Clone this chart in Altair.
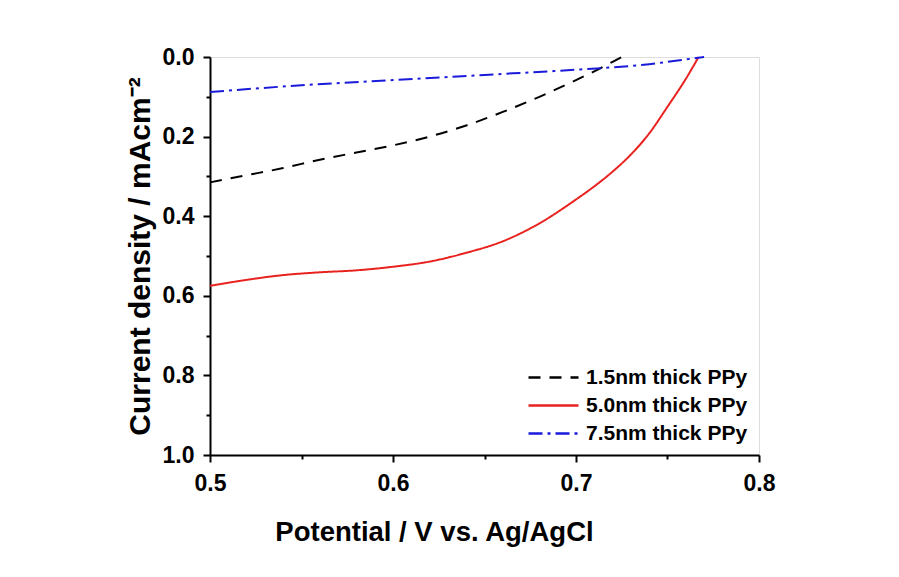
import altair as alt
import pandas as pd

series_names = ["1.5nm thick PPy", "5.0nm thick PPy", "7.5nm thick PPy"]
colors = ["#000000", "#e8231f", "#1a1adb"]

x_15 = [0.50, 0.52, 0.54, 0.56, 0.58, 0.60, 0.62, 0.64, 0.66, 0.68, 0.70, 0.71, 0.72, 0.725]
y_15 = [0.315, 0.297, 0.279, 0.258, 0.240, 0.222, 0.200, 0.172, 0.138, 0.100, 0.058, 0.036, 0.012, 0.0]

x_50 = [0.50, 0.52, 0.54, 0.56, 0.58, 0.60, 0.62, 0.64, 0.66, 0.68, 0.70, 0.71, 0.72, 0.73, 0.74, 0.75, 0.76, 0.767]
y_50 = [0.575, 0.560, 0.548, 0.541, 0.536, 0.527, 0.514, 0.492, 0.463, 0.418, 0.358, 0.325, 0.288, 0.245, 0.192, 0.125, 0.055, 0.0]

x_75 = [0.50, 0.55, 0.60, 0.65, 0.70, 0.72, 0.74, 0.76, 0.77]
y_75 = [0.088, 0.071, 0.058, 0.045, 0.032, 0.026, 0.018, 0.006, 0.0]

x_major = [0.5, 0.6, 0.7, 0.8]
x_minor = [0.55, 0.65, 0.75]
y_major = [0.0, 0.2, 0.4, 0.6, 0.8, 1.0]
y_minor = [0.1, 0.3, 0.5, 0.7, 0.9]

rows = []
for name, xs_, ys_ in zip(series_names, [x_15, x_50, x_75], [y_15, y_50, y_75]):
    for i, (a, b) in enumerate(zip(xs_, ys_)):
        rows.append({"series": name, "V": a, "J": b, "order": i})
df = pd.DataFrame(rows)

FONT = "Liberation Sans"
xs = alt.Scale(domain=[0.5, 0.8], nice=False, zero=False)
ys = alt.Scale(domain=[0.0, 1.0], reverse=True, nice=False, zero=False)

legend_kw = dict(
    title=None, orient="none", legendX=333, legendY=310,
    symbolType="M-5,0L5,0", symbolSize=100, symbolStrokeWidth=2.5,
    labelFontSize=21, labelFont=FONT, labelFontWeight="bold", labelLimit=400,
    labelColor="black", rowPadding=6, labelOffset=22,
)

lines = alt.Chart(df).mark_line(strokeWidth=2, interpolate="monotone").encode(
    x=alt.X("V:Q", scale=xs, axis=alt.Axis(
        values=x_major, format=".1f", title="Potential / V vs. Ag/AgCl",
        titleFontSize=27.5, titleFont=FONT, titleFontWeight="bold", titlePadding=23,
        titleX=224, titleAlign="center", titleAnchor="start",
        labelFontSize=23, labelFont=FONT, labelFontWeight="bold", labelPadding=10, labelFlush=False,
        tickSize=7, tickWidth=2, domainWidth=2, domainColor="black", tickColor="black",
        labelColor="black", titleColor="black", grid=False)),
    y=alt.Y("J:Q", scale=ys, axis=alt.Axis(
        values=y_major, format=".1f", title="Current density / mAcm\u207b\u00b2",
        titleFontSize=30, titleFont=FONT, titleFontWeight="bold", titlePadding=7,
        labelFontSize=23, labelFont=FONT, labelFontWeight="bold", labelPadding=9, labelFlush=False,
        tickSize=7, tickWidth=2, domainWidth=2, domainColor="black", tickColor="black",
        labelColor="black", titleColor="black", grid=False)),
    color=alt.Color("series:N", scale=alt.Scale(domain=series_names, range=colors),
                    legend=alt.Legend(**legend_kw)),
    strokeDash=alt.StrokeDash("series:N", scale=alt.Scale(domain=series_names,
                                                           range=[[12, 9], [1, 0], [14, 5, 3, 5]]),
                              legend=alt.Legend(**legend_kw)),
    order="order:Q",
)

minor_df = pd.DataFrame({"V": [0.5], "J": [0.0]})
minor = alt.Chart(minor_df).mark_point(opacity=0).encode(
    x=alt.X("V:Q", scale=xs, axis=alt.Axis(values=x_minor, labels=False, title=None, domain=False,
                                            tickSize=4, tickWidth=2, tickColor="black", grid=False, orient="bottom")),
    y=alt.Y("J:Q", scale=ys, axis=alt.Axis(values=y_minor, labels=False, title=None, domain=False,
                                            tickSize=4, tickWidth=2, tickColor="black", grid=False, orient="left")),
)

chart = alt.layer(lines, minor).resolve_scale(x="independent", y="independent").resolve_axis(
    x="independent", y="independent"
).properties(
    width=549, height=398,
    autosize=alt.AutoSizeParams(type="none"),
    padding={"left": 202, "top": 49, "right": 120, "bottom": 100},
).configure_view(stroke="black", strokeWidth=2).configure(background="white")

chart.save("out.html", embed_options={"renderer": "svg", "actions": False})
